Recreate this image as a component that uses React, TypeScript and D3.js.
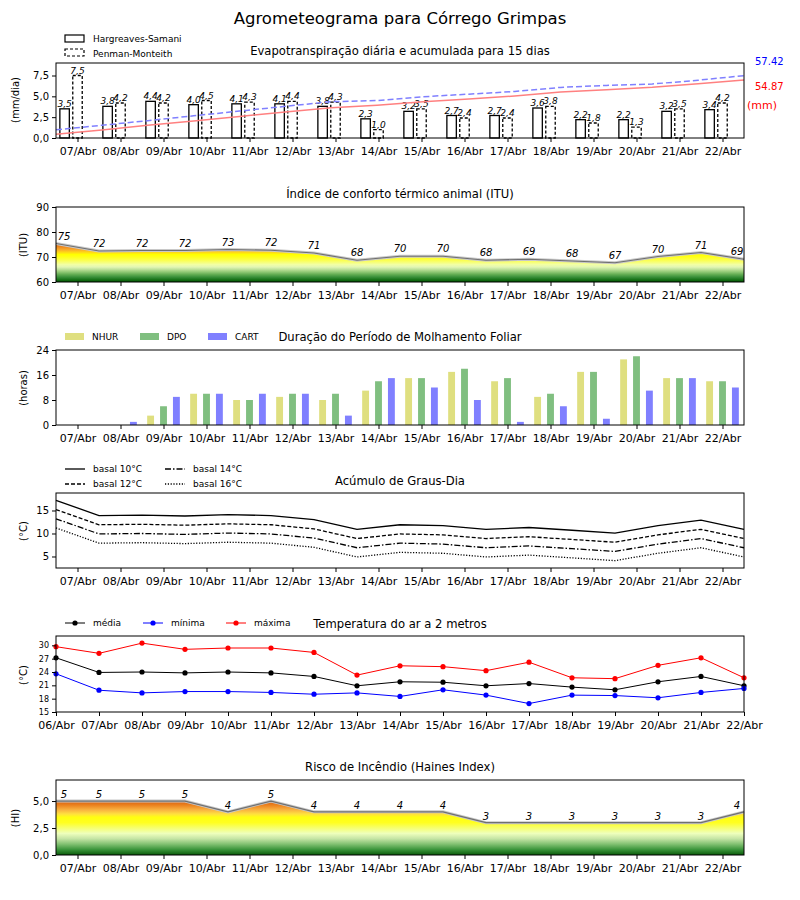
import React, { useEffect, useRef } from 'react';
import * as d3 from 'd3';

// dates
const days = ['07/Abr', '08/Abr', '09/Abr', '10/Abr', '11/Abr', '12/Abr', '13/Abr', '14/Abr',
  '15/Abr', '16/Abr', '17/Abr', '18/Abr', '19/Abr', '20/Abr', '21/Abr', '22/Abr'];
const tempDays = ['06/Abr', '07/Abr', '08/Abr', '09/Abr', '10/Abr', '11/Abr', '12/Abr', '13/Abr', '14/Abr',
  '15/Abr', '16/Abr', '17/Abr', '18/Abr', '19/Abr', '20/Abr', '21/Abr', '22/Abr'];

// evapotranspiração (mm/dia)
const etHS = [3.5, 3.8, 4.4, 4.0, 4.1, 4.1, 3.8, 2.3, 3.2, 2.7, 2.7, 3.6, 2.2, 2.2, 3.2, 3.4];
const etPM = [7.5, 4.2, 4.2, 4.5, 4.3, 4.4, 4.3, 1.0, 3.5, 2.4, 2.4, 3.8, 1.8, 1.3, 3.5, 4.2];
const etTotalHS = 54.87;
const etTotalPM = 57.42;

// ITU
const itu = [75.4, 72.4, 72.6, 72.6, 73.0, 72.7, 71.6, 68.7, 70.3, 70.3, 68.7, 69.1, 68.4, 67.7, 70.2, 71.8, 69.1];

// molhamento foliar (horas)
const nhur = [0, 0, 3, 10, 8, 9, 8, 11, 15, 17, 14, 9, 17, 21, 15, 14];
const dpo = [0, 0, 6, 10, 8, 10, 10, 14, 15, 18, 15, 10, 17, 22, 15, 14];
const cart = [0, 1, 9, 10, 10, 10, 3, 15, 12, 8, 1, 6, 2, 11, 15, 12];

// graus-dia
const gd10 = [17.2, 13.9, 14.0, 13.8, 14.1, 13.9, 13.0, 10.9, 11.9, 11.7, 10.9, 11.3, 10.7, 10.1, 11.7, 12.9, 10.9];
const gd12 = [15.2, 11.9, 12.0, 11.8, 12.1, 11.9, 11.0, 8.9, 9.9, 9.7, 8.9, 9.3, 8.7, 8.1, 9.7, 10.9, 8.9];
const gd14 = [13.2, 9.9, 10.0, 9.8, 10.1, 9.9, 9.0, 6.9, 7.9, 7.7, 6.9, 7.3, 6.7, 6.1, 7.7, 8.9, 6.9];
const gd16 = [11.2, 7.9, 8.0, 7.8, 8.1, 7.9, 7.0, 4.9, 5.9, 5.7, 4.9, 5.3, 4.7, 4.1, 5.7, 6.9, 4.9];

// temperatura (°C)
const tMed = [27.2, 23.9, 24.0, 23.8, 24.0, 23.8, 23.0, 20.9, 21.8, 21.7, 20.9, 21.4, 20.6, 20.0, 21.8, 23.0, 20.9];
const tMin = [23.6, 19.9, 19.3, 19.6, 19.6, 19.4, 19.0, 19.3, 18.5, 20.0, 18.8, 16.9, 18.8, 18.7, 18.2, 19.4, 20.3];
const tMax = [29.7, 28.2, 30.5, 29.1, 29.4, 29.4, 28.4, 23.3, 25.4, 25.2, 24.3, 26.2, 22.7, 22.5, 25.5, 27.2, 22.7];

// Haines
const haines = [5, 5, 5, 5, 4, 5, 4, 4, 4, 4, 3, 3, 3, 3, 3, 3, 4];

const ituStops: [number, string][] = [
  [60, '#005200'], [61, '#1a741a'], [62, '#3a903a'], [63, '#62ac52'], [64, '#90c874'], [65, '#bce098'],
  [66, '#e2f6b4'], [67, '#f2ffa4'], [68, '#f8ff70'], [69, '#fcff40'], [70, '#ffff1a'], [71, '#ffff00'],
  [72, '#ffd21a'], [73, '#f8a82a'], [74, '#ee8a1e'], [75, '#dc6a10'], [76, '#c85000'],
];
const hainesStops: [number, string][] = [
  [0, '#0a5a0a'], [0.5, '#3a943a'], [1, '#80c070'], [1.5, '#c4e4a4'], [2, '#eeffbc'], [2.5, '#f6ff70'],
  [3, '#ffff20'], [3.5, '#ffff10'], [3.8, '#ffe040'], [4.2, '#f8b040'], [4.6, '#ec8420'], [5, '#d86010'],
];

const FONT = 'DejaVu Sans, sans-serif';
const L = 56, R = 744;
const comma = d3.formatLocale({ decimal: ',', thousands: '.', grouping: [3], currency: ['', ''] }).format('.1f');

const App: React.FC = () => {
  const svgRef = useRef<SVGSVGElement>(null);

  useEffect(() => {
    if (!svgRef.current) return;
    const svg = d3.select(svgRef.current);
    svg.selectAll('*').remove();
    const defs = svg.append('defs');

    const xBar = d3.scaleLinear().domain([-0.5, 15.5]).range([L, R]);
    const idx = d3.range(16);
    const idx17 = d3.range(17);

    const frame = (top: number, bottom: number) => {
      svg.append('rect').attr('x', L).attr('y', top).attr('width', R - L).attr('height', bottom - top)
        .attr('fill', 'none').attr('stroke', 'black').attr('stroke-width', 1);
    };
    const styleAxis = (g: any, size: number) => {
      g.select('.domain').remove();
      g.attr('font-family', FONT).attr('font-size', size);
      g.selectAll('line').attr('stroke', 'black');
    };
    const xAxis = (scale: any, vals: number[], labels: string[], bottom: number) => {
      svg.append('g').attr('transform', `translate(0,${bottom})`)
        .call(d3.axisBottom(scale).tickValues(vals).tickFormat((d: any, i: number) => labels[i]).tickSize(4).tickPadding(5).tickSizeOuter(0))
        .call((g: any) => styleAxis(g, 11));
    };
    const yAxis = (scale: any, vals: number[], fmt: (d: any) => string, size = 10) => {
      svg.append('g').attr('transform', `translate(${L},0)`)
        .call(d3.axisLeft(scale).tickValues(vals).tickFormat(fmt).tickSize(4).tickPadding(3).tickSizeOuter(0))
        .call((g: any) => styleAxis(g, size));
    };
    const text = (x: number, y: number, s: string, size: number, opts: any = {}) => {
      const t = svg.append('text').attr('x', x).attr('y', y).attr('font-family', FONT).attr('font-size', size)
        .attr('text-anchor', opts.anchor || 'start').attr('fill', opts.fill || 'black').text(s);
      if (opts.italic) t.attr('font-style', 'italic');
      if (opts.rotate) t.attr('transform', `rotate(-90,${x},${y})`);
      return t;
    };
    const gradient = (id: string, scale: any, stops: [number, string][]) => {
      const lo = stops[0][0], hi = stops[stops.length - 1][0];
      const gr = defs.append('linearGradient').attr('id', id).attr('gradientUnits', 'userSpaceOnUse')
        .attr('x1', 0).attr('x2', 0).attr('y1', scale(lo)).attr('y2', scale(hi));
      stops.forEach(([v, c]) => gr.append('stop').attr('offset', (v - lo) / (hi - lo)).attr('stop-color', c));
    };

    text(400, 24, 'Agrometeograma para Córrego Grimpas', 16.5, { anchor: 'middle' });

    // ---------- 1. Evapotranspiração ----------
    {
      const top = 63, bottom = 138;
      const y = d3.scaleLinear().domain([0, 9.0]).range([bottom, top]);
      const xc = d3.scaleLinear().domain([0, 15]).range([L, R]);
      const y2 = d3.scaleLinear().domain([0, etTotalPM * 1.2]).range([bottom, top]);
      const bw = xBar(0.22) - xBar(0);
      const series = [
        { v: etHS, off: -0.3, dash: null },
        { v: etPM, off: 0, dash: '3,2' },
      ];
      series.forEach(s => {
        svg.append('g').selectAll('rect').data(idx).enter().append('rect')
          .attr('x', i => xBar(i + s.off) - bw / 2).attr('y', i => y(s.v[i]))
          .attr('width', bw).attr('height', i => y(0) - y(s.v[i]))
          .attr('fill', 'white').attr('stroke', 'black').attr('stroke-width', 1.3)
          .attr('stroke-dasharray', s.dash);
        svg.append('g').selectAll('text').data(idx).enter().append('text')
          .attr('x', i => xBar(i + s.off)).attr('y', i => y(s.v[i]) - 2)
          .attr('text-anchor', 'middle').attr('font-family', FONT).attr('font-size', 9).attr('font-style', 'italic')
          .text(i => comma(s.v[i]));
      });
      const cum = (arr: number[]) => { let t = 0; return arr.map(v => (t += v)); };
      const line = d3.line<number>().x((d, i) => xc(i)).y(d => y2(d));
      svg.append('path').attr('d', line(cum(etHS))).attr('fill', 'none').attr('stroke', '#ff8080').attr('stroke-width', 1.5);
      svg.append('path').attr('d', line(cum(etPM))).attr('fill', 'none').attr('stroke', '#8080ff').attr('stroke-width', 1.5)
        .attr('stroke-dasharray', '6,3');
      frame(top, bottom);
      xAxis(xBar, idx, days, bottom);
      yAxis(y, [0, 2.5, 5, 7.5], comma);
      text(400, 55, 'Evapotranspiração diária e acumulada para 15 dias', 11.6, { anchor: 'middle' });
      text(19, 100, '(mm/dia)', 10, { anchor: 'middle', rotate: true });
      text(755, 65, etTotalPM.toFixed(2), 10, { fill: 'blue' });
      text(755, 90, etTotalHS.toFixed(2), 10, { fill: 'red' });
      text(747, 109, '(mm)', 11, { fill: 'red' });
      // legend
      svg.append('rect').attr('x', 65).attr('y', 35).attr('width', 19).attr('height', 7).attr('fill', 'white').attr('stroke', 'black').attr('stroke-width', 1.2);
      svg.append('rect').attr('x', 65).attr('y', 49).attr('width', 19).attr('height', 7).attr('fill', 'white').attr('stroke', 'black').attr('stroke-width', 1.2).attr('stroke-dasharray', '3,2');
      text(93, 42, 'Hargreaves-Samani', 9);
      text(93, 57, 'Penman-Monteith', 9);
    }

    // ---------- 2. ITU ----------
    {
      const top = 207, bottom = 282;
      const y = d3.scaleLinear().domain([60, 90]).range([bottom, top]);
      gradient('gItu', y, ituStops);
      const area = d3.area<number>().x((d, i) => xBar(i - 0.5)).y0(y(60)).y1(d => y(d));
      const line = d3.line<number>().x((d, i) => xBar(i - 0.5)).y(d => y(d));
      svg.append('path').attr('d', area(itu)).attr('fill', 'url(#gItu)');
      svg.append('path').attr('d', line(itu)).attr('fill', 'none').attr('stroke', '#c8c8c8').attr('stroke-width', 3);
      svg.append('path').attr('d', line(itu)).attr('fill', 'none').attr('stroke', '#707070').attr('stroke-width', 1.2);
      svg.append('g').selectAll('text').data(idx17).enter().append('text')
        .attr('x', i => Math.min(737, Math.max(64, xBar(i - 0.5)))).attr('y', i => y(itu[i]) - 4)
        .attr('text-anchor', 'middle').attr('font-family', FONT).attr('font-size', 10).attr('font-style', 'italic')
        .text(i => String(Math.floor(itu[i])));
      frame(top, bottom);
      xAxis(xBar, idx, days, bottom);
      yAxis(y, [60, 70, 80, 90], d3.format('d'));
      text(400, 198, 'Índice de conforto térmico animal (ITU)', 11.6, { anchor: 'middle' });
      text(27, 245, '(ITU)', 10, { anchor: 'middle', rotate: true });
    }

    // ---------- 3. Molhamento foliar ----------
    {
      const top = 350, bottom = 425;
      const y = d3.scaleLinear().domain([0, 24]).range([bottom, top]);
      const bw = xBar(0.16) - xBar(0);
      const series = [
        { v: nhur, off: -0.3, c: '#dfdf80', name: 'NHUR', lx: 65 },
        { v: dpo, off: 0, c: '#80bf80', name: 'DPO', lx: 140 },
        { v: cart, off: 0.3, c: '#8080ff', name: 'CART', lx: 208 },
      ];
      series.forEach(s => {
        svg.append('g').selectAll('rect').data(idx).enter().append('rect')
          .attr('x', i => xBar(i + s.off) - bw / 2).attr('y', i => y(s.v[i]))
          .attr('width', bw).attr('height', i => y(0) - y(s.v[i])).attr('fill', s.c);
        svg.append('rect').attr('x', s.lx).attr('y', 333).attr('width', 19).attr('height', 7).attr('fill', s.c);
        text(s.lx + 27, 340, s.name, 9);
      });
      frame(top, bottom);
      xAxis(xBar, idx, days, bottom);
      yAxis(y, [0, 8, 16, 24], d3.format('d'));
      text(400, 341, 'Duração do Período de Molhamento Foliar', 11.6, { anchor: 'middle' });
      text(27, 388, '(horas)', 10, { anchor: 'middle', rotate: true });
    }

    // ---------- 4. Graus-dia ----------
    {
      const top = 493, bottom = 568;
      const y = d3.scaleLinear().domain([2.5, 18.8]).range([bottom, top]);
      const line = d3.line<number>().x((d, i) => xBar(i - 0.5)).y(d => y(d));
      const series = [
        { v: gd10, dash: null, name: 'basal 10°C', lx: 65, ly: 469 },
        { v: gd12, dash: '4,2', name: 'basal 12°C', lx: 65, ly: 484 },
        { v: gd14, dash: '6,2,1.5,2', name: 'basal 14°C', lx: 165, ly: 469 },
        { v: gd16, dash: '1.2,1.6', name: 'basal 16°C', lx: 165, ly: 484 },
      ];
      series.forEach(s => {
        svg.append('path').attr('d', line(s.v)).attr('fill', 'none').attr('stroke', 'black').attr('stroke-width', 1.3)
          .attr('stroke-dasharray', s.dash);
        svg.append('line').attr('x1', s.lx).attr('x2', s.lx + 20).attr('y1', s.ly).attr('y2', s.ly)
          .attr('stroke', 'black').attr('stroke-width', 1.3).attr('stroke-dasharray', s.dash);
        text(s.lx + 28, s.ly + 3, s.name, 9);
      });
      frame(top, bottom);
      xAxis(xBar, idx, days, bottom);
      yAxis(y, [5, 10, 15], d3.format('d'));
      text(400, 485, 'Acúmulo de Graus-Dia', 11.6, { anchor: 'middle' });
      text(27, 531, '(°C)', 10, { anchor: 'middle', rotate: true });
    }

    // ---------- 5. Temperatura ----------
    {
      const top = 636, bottom = 712;
      const xt = d3.scaleLinear().domain([0, 16]).range([L, R]);
      const y = d3.scaleLinear().domain([15, 32.1]).range([bottom, top]);
      const line = d3.line<number>().x((d, i) => xt(i)).y(d => y(d));
      const series = [
        { v: tMed, c: 'black', name: 'média', lx: 65 },
        { v: tMin, c: 'blue', name: 'mínima', lx: 143 },
        { v: tMax, c: 'red', name: 'máxima', lx: 226 },
      ];
      series.forEach(s => {
        svg.append('path').attr('d', line(s.v)).attr('fill', 'none').attr('stroke', s.c).attr('stroke-width', 1);
        svg.append('g').selectAll('circle').data(s.v).enter().append('circle')
          .attr('cx', (d, i) => xt(i)).attr('cy', d => y(d)).attr('r', 2.6).attr('fill', s.c);
        svg.append('line').attr('x1', s.lx).attr('x2', s.lx + 20).attr('y1', 623).attr('y2', 623).attr('stroke', s.c).attr('stroke-width', 1);
        svg.append('circle').attr('cx', s.lx + 10).attr('cy', 623).attr('r', 2.6).attr('fill', s.c);
        text(s.lx + 28, 626, s.name, 9);
      });
      frame(top, bottom);
      xAxis(xt, idx17, tempDays, bottom);
      yAxis(y, [15, 18, 21, 24, 27, 30], d3.format('d'), 8);
      text(400, 628, 'Temperatura do ar a 2 metros', 11.6, { anchor: 'middle' });
      text(27, 675, '(°C)', 10, { anchor: 'middle', rotate: true });
    }

    // ---------- 6. Haines ----------
    {
      const top = 780, bottom = 855;
      const y = d3.scaleLinear().domain([0, 6.95]).range([bottom, top]);
      gradient('gHaines', y, hainesStops);
      const area = d3.area<number>().x((d, i) => xBar(i - 0.5)).y0(y(0)).y1(d => y(d));
      const line = d3.line<number>().x((d, i) => xBar(i - 0.5)).y(d => y(d));
      svg.append('path').attr('d', area(haines)).attr('fill', 'url(#gHaines)');
      svg.append('path').attr('d', line(haines)).attr('fill', 'none').attr('stroke', '#c8c8c8').attr('stroke-width', 3);
      svg.append('path').attr('d', line(haines)).attr('fill', 'none').attr('stroke', '#707070').attr('stroke-width', 1.2);
      svg.append('g').selectAll('text').data(idx17).enter().append('text')
        .attr('x', i => Math.min(737, Math.max(64, xBar(i - 0.5)))).attr('y', i => y(haines[i]) - 3)
        .attr('text-anchor', 'middle').attr('font-family', FONT).attr('font-size', 10).attr('font-style', 'italic')
        .text(i => String(haines[i]));
      frame(top, bottom);
      xAxis(xBar, idx, days, bottom);
      yAxis(y, [0, 2.5, 5], comma);
      text(400, 771, 'Risco de Incêndio (Haines Index)', 11.6, { anchor: 'middle' });
      text(19, 818, '(HI)', 10, { anchor: 'middle', rotate: true });
    }
  }, []);

  return (
    <svg ref={svgRef} width={800} height={900}
      style={{ position: 'absolute', left: 0, top: 0, background: 'white' }} />
  );
};

export default App;
